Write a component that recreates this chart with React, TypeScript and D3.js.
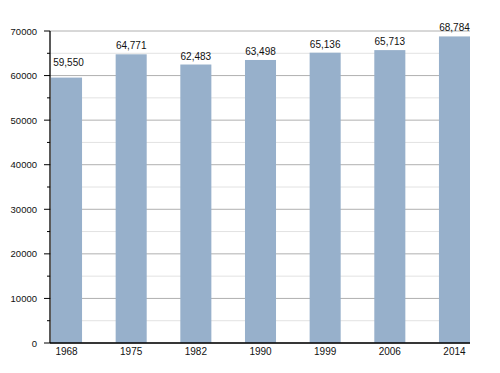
import React from "react";
import * as d3 from "d3";

const years = ["1968", "1975", "1982", "1990", "1999", "2006", "2014"];
const population = [59550, 64771, 62483, 63498, 65136, 65713, 68784];
const majorTicks = [0, 10000, 20000, 30000, 40000, 50000, 60000, 70000];
const minorTicks = [5000, 15000, 25000, 35000, 45000, 55000, 65000];

export default function App() {
  const W = 500, H = 373;
  const left = 50, right = 470, top = 31, bottom = 343;
  const x = d3.scaleBand<string>().domain(years).range([left + 1, right]).paddingInner(0.52).paddingOuter(0);
  const y = d3.scaleLinear().domain([0, 70000]).range([bottom, top]);
  const fmt = d3.format(",");
  const font = "'Liberation Sans', Arial, sans-serif";
  return (
    <svg width={W} height={H} style={{ position: "absolute", left: 0, top: 0 }}>
      <rect width={W} height={H} fill="#fff" />
      {minorTicks.map((t) => (
        <line key={"mg" + t} x1={left} x2={right} y1={y(t)} y2={y(t)} stroke="#e2e2e2" strokeWidth={1} />
      ))}
      {majorTicks.map((t) => (
        <line key={"Mg" + t} x1={left} x2={right} y1={y(t)} y2={y(t)} stroke="#b0b0b0" strokeWidth={1} />
      ))}
      {years.map((yr, i) => (
        <rect key={yr} x={x(yr)} y={y(population[i])} width={x.bandwidth()} height={bottom - y(population[i])} fill="#97b0cb" />
      ))}
      {years.map((yr, i) => {
        const cx = (x(yr) as number) + x.bandwidth() / 2;
        // the first label would hit the axis, so it is nudged right and up as in the source
        const first = i === 0;
        return (
          <text key={"v" + yr} x={first ? cx + 2 : cx} y={y(population[i]) - (first ? 11.5 : 5)} textAnchor="middle" fontFamily={font} fontSize={10} fill="#111">
            {fmt(population[i])}
          </text>
        );
      })}
      <line x1={left} x2={left} y1={top} y2={bottom} stroke="#000" strokeWidth={1.3} />
      <line x1={left} x2={right} y1={bottom} y2={bottom} stroke="#000" strokeWidth={1.5} />
      {majorTicks.map((t) => (
        <g key={"t" + t}>
          <line x1={left - 6} x2={left} y1={y(t)} y2={y(t)} stroke="#000" />
          <text x={37} y={y(t) + 3.5} textAnchor="end" fontFamily={font} fontSize={9.5} fill="#111">{t}</text>
        </g>
      ))}
      {minorTicks.map((t) => (
        <line key={"mt" + t} x1={left - 3} x2={left} y1={y(t)} y2={y(t)} stroke="#000" />
      ))}
      {years.map((yr) => (
        <text key={"x" + yr} x={(x(yr) as number) + x.bandwidth() / 2} y={355} textAnchor="middle" fontFamily={font} fontSize={10} fill="#111">
          {yr}
        </text>
      ))}
    </svg>
  );
}
